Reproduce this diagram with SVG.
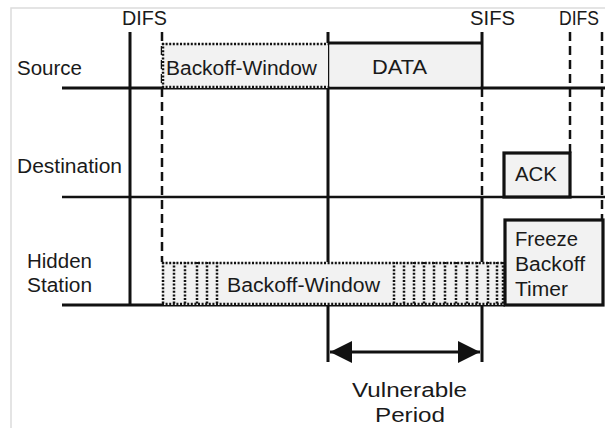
<svg xmlns="http://www.w3.org/2000/svg" width="605" height="428" viewBox="0 0 605 428">
<defs>
<style>
.t{font-family:"Liberation Sans",Arial,sans-serif;font-size:20px;fill:#1a1a1a}
.solid{stroke:#111;stroke-width:3;fill:none}
.dash{stroke:#111;stroke-width:2.5;stroke-dasharray:9 5;fill:none}
.dot{stroke:#111;stroke-width:2.5;stroke-dasharray:2 1.6;fill:none}
.box{fill:#f2f2f2}
.thick{fill:#f2f2f2;stroke:#111;stroke-width:3.2}
</style>
<marker id="ah" viewBox="0 0 22 22" refX="22" refY="11" markerWidth="22" markerHeight="22" markerUnits="userSpaceOnUse" orient="auto-start-reverse">
<path d="M0,0 L22,11 L0,22 Z" fill="#111"/>
</marker>
</defs>
<rect width="605" height="428" fill="#fff"/>
<path d="M11,428 V8 H605" stroke="#dcdcdc" stroke-width="1.5" fill="none"/>

<g id="connectors">
<path class="solid" d="M62,88 H605"/>
<path class="solid" d="M62,197 H605" style="stroke-width:2.5"/>
<path class="solid" d="M62,305 H505" style="stroke-width:3.2"/>
<path class="solid" d="M130,32 V305"/>
<path class="dash" d="M162,32 V262"/>
<path class="solid" d="M328,32 V362"/>
<path class="solid" d="M482,32 V88"/>
<path class="dash" d="M482,88 V197"/>
<path class="solid" d="M482,197 V362"/>
<path class="dash" d="M570,32 V153"/>
<path class="dash" d="M602,32 V220"/>
<path d="M330,352 H480" stroke="#111" stroke-width="3" marker-start="url(#ah)" marker-end="url(#ah)"/>
</g>

<g id="labels">
<text class="t" x="122" y="25" textLength="45" lengthAdjust="spacingAndGlyphs">DIFS</text>
<text class="t" x="470" y="25" textLength="45" lengthAdjust="spacingAndGlyphs">SIFS</text>
<text class="t" x="559" y="25" textLength="40" lengthAdjust="spacingAndGlyphs">DIFS</text>
<text class="t" x="17" y="75" textLength="65" lengthAdjust="spacingAndGlyphs">Source</text>
<text class="t" x="17" y="173" textLength="105" lengthAdjust="spacingAndGlyphs">Destination</text>
<text class="t" x="27" y="268" textLength="65" lengthAdjust="spacingAndGlyphs">Hidden</text>
<text class="t" x="27" y="292" textLength="65" lengthAdjust="spacingAndGlyphs">Station</text>
</g>

<g id="source-backoff">
<rect class="box" x="162" y="43" width="166" height="45"/>
<path class="dot" d="M162,44 H328 M162,87 H328 M163,43 V88"/>
<text class="t" x="166" y="75" textLength="151" lengthAdjust="spacingAndGlyphs">Backoff-Window</text>
</g>

<g id="data">
<rect class="box" x="329.5" y="44.5" width="151" height="42"/>
<path class="solid" d="M328,43 H482"/>
<text class="t" x="372" y="74" textLength="55" lengthAdjust="spacingAndGlyphs">DATA</text>
</g>

<g id="ack">
<rect class="thick" x="504" y="153" width="66" height="44"/>
<text class="t" x="515" y="181" textLength="42" lengthAdjust="spacingAndGlyphs">ACK</text>
</g>

<g id="hidden-backoff">
<rect class="box" x="162" y="262" width="342" height="43"/>
<path class="dot" d="M162,263 H504 M162,304 H504 M163,262 V305 M174,262 V305 M185,262 V305 M197,262 V305 M207,262 V305 M217,262 V305 M394,262 V305 M404,262 V305 M414,262 V305 M424,262 V305 M434,262 V305 M445,262 V305 M456,262 V305 M467,262 V305 M477,262 V305 M488,262 V305 M497,262 V305 M503,262 V305"/>
<text class="t" x="227" y="292" textLength="153" lengthAdjust="spacingAndGlyphs">Backoff-Window</text>
</g>

<g id="freeze">
<rect class="thick" x="505" y="220" width="98" height="85"/>
<text class="t" x="515" y="246" textLength="63" lengthAdjust="spacingAndGlyphs">Freeze</text>
<text class="t" x="515" y="271" textLength="70" lengthAdjust="spacingAndGlyphs">Backoff</text>
<text class="t" x="515" y="296" textLength="53" lengthAdjust="spacingAndGlyphs">Timer</text>
</g>

<g id="vulnerable">
<text class="t" x="352" y="397" textLength="115" lengthAdjust="spacingAndGlyphs">Vulnerable</text>
<text class="t" x="375" y="422" textLength="70" lengthAdjust="spacingAndGlyphs">Period</text>
</g>
</svg>
